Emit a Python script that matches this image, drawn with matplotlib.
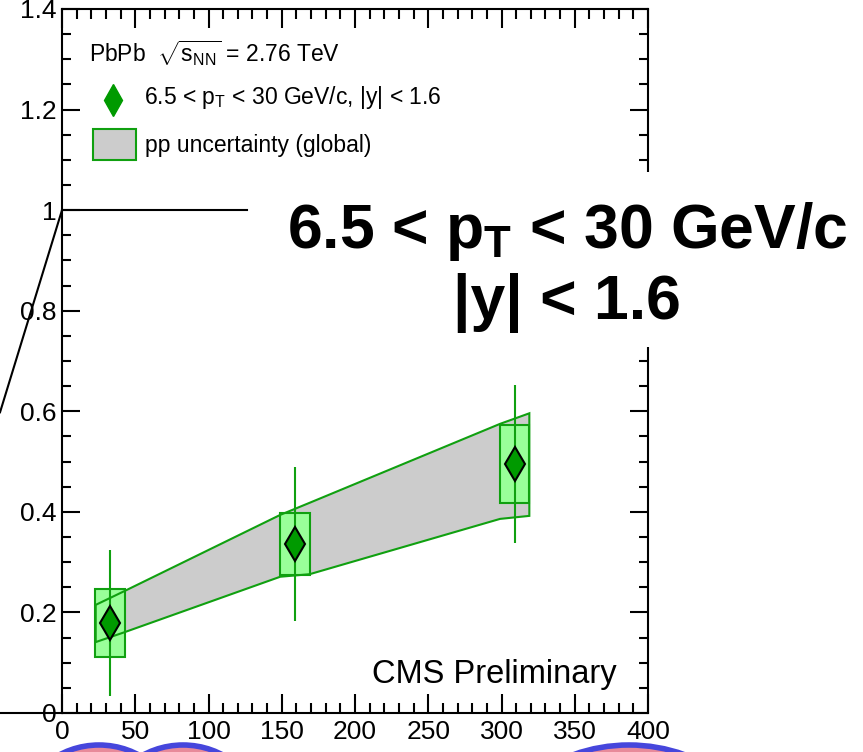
import matplotlib
matplotlib.use("Agg")
import matplotlib.pyplot as plt
from matplotlib.patches import Rectangle, Circle
from matplotlib.ticker import MultipleLocator, FuncFormatter

plt.rcParams["font.family"] = ["Liberation Sans", "DejaVu Sans"]
plt.rcParams["mathtext.fontset"] = "custom"
plt.rcParams["mathtext.rm"] = "Liberation Sans"
plt.rcParams["mathtext.it"] = "Liberation Sans"
plt.rcParams["mathtext.bf"] = "Liberation Sans:bold"

# data (x = Npart, y = RAA)
npart = [32.8, 159, 309]
raa = [0.179, 0.336, 0.495]
stat_err = [0.145, 0.153, 0.157]
syst_err = [0.067, 0.061, 0.078]
box_half = 10

# pp uncertainty band, at box edges
band_x = [23, 43, 149, 169, 299, 319]
band_hi = [0.215, 0.243, 0.394, 0.418, 0.575, 0.596]
band_lo = [0.141, 0.161, 0.271, 0.276, 0.386, 0.392]

GREEN = "#10a010"
BOXFILL = "#99ff99"
MARKER = "#009a00"
W, H = 863, 752

fig = plt.figure(figsize=(W / 100, H / 100), dpi=100)
ax = fig.add_axes([62 / W, 1 - 713 / H, 586 / W, 704 / H])
ax.set_xlim(0, 400)
ax.set_ylim(0, 1.4)

# band fill, boxes, band outline, error bars, markers
ax.fill(band_x + band_x[::-1], band_hi + band_lo[::-1], color="#cccccc", lw=0, zorder=1)
for x, y, s in zip(npart, raa, syst_err):
    ax.add_patch(Rectangle((x - box_half, y - s), 2 * box_half, 2 * s,
                           facecolor=BOXFILL, edgecolor=GREEN, lw=1.5, zorder=2))
ax.fill(band_x + band_x[::-1], band_hi + band_lo[::-1], facecolor="none",
        edgecolor=GREEN, lw=1.5, zorder=3)
ax.errorbar(npart, raa, yerr=stat_err, fmt="none", ecolor=GREEN, elinewidth=1.5,
            capsize=0, zorder=4)
ax.plot(npart, raa, "d", ms=17, mfc=MARKER, mec="black", mew=1.5, zorder=5)

# ROOT-like axes
for sp in ax.spines.values():
    sp.set_linewidth(1.5)
ax.xaxis.set_major_locator(MultipleLocator(50))
ax.xaxis.set_minor_locator(MultipleLocator(10))
ax.yaxis.set_major_locator(MultipleLocator(0.2))
ax.yaxis.set_minor_locator(MultipleLocator(0.05))
ax.yaxis.set_major_formatter(FuncFormatter(lambda v, p: "%g" % round(v, 2)))
ax.tick_params(axis="both", which="both", direction="in", top=True, right=True, width=1.5)
ax.tick_params(axis="x", which="major", length=14, labelsize=19, pad=5)
ax.tick_params(axis="x", which="minor", length=7)
ax.tick_params(axis="y", which="major", length=13, labelsize=19, pad=4)
ax.tick_params(axis="y", which="minor", length=6.5)

# legend
ax.text(0.046, 0.9247, r"PbPb  $\sqrt{\mathrm{s}_{\mathrm{NN}}}$ = 2.76 TeV",
        transform=ax.transAxes, fontsize=16.5, va="baseline")
ax.plot([0.087], [0.871], "d", ms=16, color=MARKER, mec=MARKER, transform=ax.transAxes)
ax.text(0.140, 0.865, r"6.5 < $\mathrm{p}_\mathrm{T}$ < 30 GeV/c, |y| < 1.6",
        transform=ax.transAxes, fontsize=16.5, va="baseline")
ax.add_patch(Rectangle((0.053, 0.786), 0.073, 0.044, transform=ax.transAxes,
                       facecolor="#cccccc", edgecolor=GREEN, lw=1.5))
ax.text(0.1416, 0.797, "pp uncertainty (global)", transform=ax.transAxes,
        fontsize=16.5, va="baseline")
ax.text(0.947, 0.0426, "CMS Preliminary", transform=ax.transAxes, fontsize=23.5,
        ha="right", va="baseline")

# slide overlay: zoom lines
ax.plot([0, 126], [1, 1], color="black", lw=1.5, clip_on=False, zorder=6)
ax.plot([0, -42.3], [1, 0.598], color="black", lw=1.5, clip_on=False, zorder=6)
ax.plot([-42.3, 0], [0, 0], color="black", lw=1.5, clip_on=False, zorder=6)

# white panel with the big label
fig.add_artist(Rectangle((265 / W, 1 - 347 / H), 1 - 265 / W, 175 / H,
                         transform=fig.transFigure, facecolor="white",
                         edgecolor="none", zorder=5))
fig.text(567 / W, 1 - 248 / H, r"6.5 < $\mathbf{p}_\mathbf{T}$ < 30 GeV/c",
         fontsize=45, fontweight="bold", ha="center", va="baseline", zorder=6)
fig.text(567 / W, 1 - 319 / H, "|y| < 1.6", fontsize=45, fontweight="bold",
         ha="center", va="baseline", zorder=6)

# bits of slide icons at the bottom edge
for cx, cy, r in [(99, 810, 65), (183, 810, 65), (629, 871, 126)]:
    fig.add_artist(Circle((cx / W, 1 - cy / H), r / H, transform=fig.transFigure,
                          facecolor="#e88a9a", edgecolor="#4646dc", lw=4, zorder=4))

fig.savefig("out.png", dpi=100)
